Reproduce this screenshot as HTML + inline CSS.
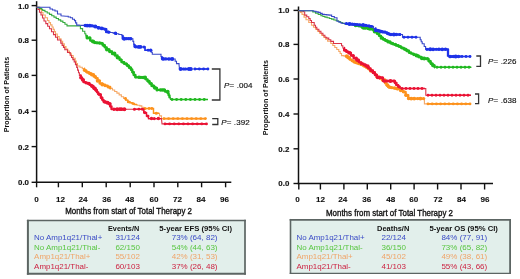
<!DOCTYPE html><html><head><meta charset="utf-8"><style>html,body{margin:0;padding:0;background:#fff;width:520px;height:279px;overflow:hidden}svg{display:block}text{font-family:"Liberation Sans", sans-serif}</style></head><body>
<svg style="will-change:transform" width="520" height="279" viewBox="0 0 520 279">
<rect width="520" height="279" fill="#fff"/>
<path d="M36.6,1.2 V183.05" stroke="#111" stroke-width="1.5" fill="none"/>
<path d="M35.85,182.3 H231.3" stroke="#111" stroke-width="1.5" fill="none"/>
<path d="M31.6,5.6 H36.6" stroke="#111" stroke-width="1.4"/>
<text x="29.0" y="8.5" font-size="7.9" fill="#111" font-weight="bold" font-style="normal" text-anchor="end" stroke="#111" stroke-width="0.15">1.0</text>
<path d="M31.6,40.2 H36.6" stroke="#111" stroke-width="1.4"/>
<text x="29.0" y="43.1" font-size="7.9" fill="#111" font-weight="bold" font-style="normal" text-anchor="end" stroke="#111" stroke-width="0.15">0.8</text>
<path d="M31.6,75.4 H36.6" stroke="#111" stroke-width="1.4"/>
<text x="29.0" y="78.3" font-size="7.9" fill="#111" font-weight="bold" font-style="normal" text-anchor="end" stroke="#111" stroke-width="0.15">0.6</text>
<path d="M31.6,111.4 H36.6" stroke="#111" stroke-width="1.4"/>
<text x="29.0" y="114.3" font-size="7.9" fill="#111" font-weight="bold" font-style="normal" text-anchor="end" stroke="#111" stroke-width="0.15">0.4</text>
<path d="M31.6,146.6 H36.6" stroke="#111" stroke-width="1.4"/>
<text x="29.0" y="149.5" font-size="7.9" fill="#111" font-weight="bold" font-style="normal" text-anchor="end" stroke="#111" stroke-width="0.15">0.2</text>
<path d="M31.6,182.3 H36.6" stroke="#111" stroke-width="1.4"/>
<text x="29.0" y="185.2" font-size="7.9" fill="#111" font-weight="bold" font-style="normal" text-anchor="end" stroke="#111" stroke-width="0.15">0.0</text>
<path d="M36.6,182.3 V187.3" stroke="#111" stroke-width="1.4"/>
<path d="M58.4,182.3 V187.3" stroke="#111" stroke-width="1.4"/>
<path d="M82.3,182.3 V187.3" stroke="#111" stroke-width="1.4"/>
<path d="M106.2,182.3 V187.3" stroke="#111" stroke-width="1.4"/>
<path d="M130.2,182.3 V187.3" stroke="#111" stroke-width="1.4"/>
<path d="M154.0,182.3 V187.3" stroke="#111" stroke-width="1.4"/>
<path d="M177.8,182.3 V187.3" stroke="#111" stroke-width="1.4"/>
<path d="M201.6,182.3 V187.3" stroke="#111" stroke-width="1.4"/>
<path d="M225.6,182.3 V187.3" stroke="#111" stroke-width="1.4"/>
<text x="36.5" y="201.5" font-size="8.1" fill="#111" font-weight="bold" font-style="normal" text-anchor="middle" stroke="#111" stroke-width="0.1">0</text>
<text x="60.6" y="201.5" font-size="8.1" fill="#111" font-weight="bold" font-style="normal" text-anchor="middle" stroke="#111" stroke-width="0.1">12</text>
<text x="83.1" y="201.5" font-size="8.1" fill="#111" font-weight="bold" font-style="normal" text-anchor="middle" stroke="#111" stroke-width="0.1">24</text>
<text x="106.7" y="201.5" font-size="8.1" fill="#111" font-weight="bold" font-style="normal" text-anchor="middle" stroke="#111" stroke-width="0.1">36</text>
<text x="129.7" y="201.5" font-size="8.1" fill="#111" font-weight="bold" font-style="normal" text-anchor="middle" stroke="#111" stroke-width="0.1">48</text>
<text x="153.9" y="201.5" font-size="8.1" fill="#111" font-weight="bold" font-style="normal" text-anchor="middle" stroke="#111" stroke-width="0.1">60</text>
<text x="177.4" y="201.5" font-size="8.1" fill="#111" font-weight="bold" font-style="normal" text-anchor="middle" stroke="#111" stroke-width="0.1">72</text>
<text x="200.9" y="201.5" font-size="8.1" fill="#111" font-weight="bold" font-style="normal" text-anchor="middle" stroke="#111" stroke-width="0.1">84</text>
<text x="224.4" y="201.5" font-size="8.1" fill="#111" font-weight="bold" font-style="normal" text-anchor="middle" stroke="#111" stroke-width="0.1">96</text>
<text transform="translate(8.6,94.6) rotate(-90)" font-size="7.4" font-weight="bold" fill="#111" text-anchor="middle" textLength="75.5" lengthAdjust="spacingAndGlyphs">Proportion of Patients</text>
<text x="65.2" y="213.9" font-size="8.3" fill="#111" font-weight="normal" font-style="normal" text-anchor="start" textLength="126.8" lengthAdjust="spacingAndGlyphs" stroke="#111" stroke-width="0.33">Months from start of Total Therapy 2</text>
<path d="M36.60,7.20 L40.00,7.20 L40.00,9.50 L41.50,9.50 L41.50,12.25 L43.00,12.25 L43.00,15.00 L45.25,15.00 L45.25,17.75 L47.50,17.75 L47.50,20.50 L49.00,20.50 L49.00,22.67 L50.50,22.67 L50.50,24.83 L52.00,24.83 L52.00,27.00 L53.17,27.00 L53.17,29.33 L54.33,29.33 L54.33,31.67 L55.50,31.67 L55.50,34.00 L57.33,34.00 L57.33,36.43 L59.17,36.43 L59.17,38.87 L61.00,38.87 L61.00,41.30 L62.67,41.30 L62.67,43.87 L64.33,43.87 L64.33,46.43 L66.00,46.43 L66.00,49.00 L67.73,49.00 L67.73,51.17 L69.47,51.17 L69.47,53.33 L71.20,53.33 L71.20,55.50 L73.20,55.50 L73.20,58.25 L75.20,58.25 L75.20,61.00 L76.35,61.00 L76.35,63.50 L77.50,63.50 L77.50,66.00 L79.90,66.00 L79.90,67.30 L82.30,67.30 L82.30,68.60 L84.25,68.60 L84.25,70.35 L86.20,70.35 L86.20,72.10 L88.85,72.10 L88.85,73.45 L91.50,73.45 L91.50,74.80 L93.55,74.80 L93.55,76.50 L95.60,76.50 L95.60,78.20 L97.60,78.20 L97.60,80.85 L99.60,80.85 L99.60,83.50 L102.30,83.50 L102.30,84.55 L105.00,84.55 L105.00,85.60 L107.60,85.60 L107.60,87.00 L110.20,87.00 L110.20,88.40 L112.43,88.40 L112.43,89.97 L114.67,89.97 L114.67,91.53 L116.90,91.53 L116.90,93.10 L119.13,93.10 L119.13,94.90 L121.37,94.90 L121.37,96.70 L123.60,96.70 L123.60,98.50 L125.65,98.50 L125.65,100.15 L127.70,100.15 L127.70,101.80 L129.93,101.80 L129.93,102.70 L132.17,102.70 L132.17,103.60 L134.40,103.60 L134.40,104.50 L137.10,104.50 L137.10,105.20 L139.80,105.20 L139.80,105.90 L141.80,105.90 L141.80,107.20 L143.80,107.20 L143.80,108.50 L153.50,108.50 L153.50,113.20 L157.50,113.20 L159.50,113.20 L159.50,115.90 L161.50,115.90 L161.50,118.60 L206.00,118.60" fill="none" stroke="#f5a866" stroke-width="1.1" stroke-linejoin="miter"/>
<path d="M84.00,68.60 L84.25,68.60 L84.25,68.60 L84.25,70.35 L84.25,70.35 L86.20,70.35 L86.20,70.35 L86.20,72.10 L86.20,72.10 L88.85,72.10 L88.85,72.10 L88.85,73.45 L88.85,73.45 L91.50,73.45 L91.50,73.45 L91.50,74.80 L91.50,74.80 L93.55,74.80 L93.55,74.80 L93.55,76.50 L93.55,76.50 L95.60,76.50 L95.60,76.50 L95.60,78.20 L95.60,78.20 L97.60,78.20 L97.60,78.20 L97.60,80.85 L97.60,80.85 L99.60,80.85 L99.60,80.85 L99.60,83.50 L99.60,83.50 L102.30,83.50 L102.30,83.50 L102.30,84.55 L102.30,84.55 L105.00,84.55 L105.00,84.55 L105.00,85.60 L105.00,85.60 L107.60,85.60 L107.60,85.60 L107.60,87.00 L107.60,87.00 L110.20,87.00 L110.20,87.00 L110.20,88.40 L110.20,88.40 L111.00,88.40" fill="none" stroke="#fd921c" stroke-width="2.3" stroke-linejoin="round"/>
<circle cx="84.49" cy="70.35" r="1.58" fill="#fd921c"/>
<circle cx="87.39" cy="72.10" r="1.54" fill="#fd921c"/>
<circle cx="90.06" cy="73.45" r="1.68" fill="#fd921c"/>
<circle cx="91.78" cy="74.80" r="1.75" fill="#fd921c"/>
<circle cx="93.45" cy="74.80" r="1.72" fill="#fd921c"/>
<circle cx="95.19" cy="76.50" r="1.55" fill="#fd921c"/>
<circle cx="97.64" cy="80.85" r="1.91" fill="#fd921c"/>
<circle cx="99.49" cy="80.85" r="1.61" fill="#fd921c"/>
<circle cx="102.34" cy="84.55" r="1.97" fill="#fd921c"/>
<circle cx="105.10" cy="85.60" r="1.70" fill="#fd921c"/>
<circle cx="108.65" cy="87.00" r="1.52" fill="#fd921c"/>
<path d="M125.00,98.50 L125.65,98.50 L125.65,98.50 L125.65,100.15 L125.65,100.15 L127.70,100.15 L127.70,100.15 L127.70,101.80 L127.70,101.80 L129.93,101.80 L129.93,101.80 L129.93,102.70 L129.93,102.70 L132.17,102.70 L132.17,102.70 L132.17,103.60 L132.17,103.60 L134.40,103.60 L134.40,103.60 L134.40,104.50 L134.40,104.50 L137.00,104.50" fill="none" stroke="#fd921c" stroke-width="1.4"/>
<circle cx="125.43" cy="98.50" r="1.46" fill="#fd921c"/>
<circle cx="128.29" cy="101.80" r="1.52" fill="#fd921c"/>
<circle cx="133.24" cy="103.60" r="1.47" fill="#fd921c"/>
<path d="M144.00,108.50 L153.50,108.50 L153.50,108.50 L153.50,113.20 L153.50,113.20 L157.50,113.20 L157.50,113.20 L159.00,113.20" fill="none" stroke="#fd921c" stroke-width="1.4"/>
<circle cx="144.96" cy="108.50" r="1.55" fill="#fd921c"/>
<circle cx="149.10" cy="108.50" r="1.43" fill="#fd921c"/>
<circle cx="151.78" cy="108.50" r="1.48" fill="#fd921c"/>
<circle cx="156.32" cy="113.20" r="1.57" fill="#fd921c"/>
<path d="M163.00,118.60 L206.00,118.60" fill="none" stroke="#fd921c" stroke-width="1.6"/>
<circle cx="164.00" cy="118.60" r="1.45" fill="#fd921c"/>
<circle cx="168.60" cy="118.60" r="1.45" fill="#fd921c"/>
<circle cx="173.20" cy="118.60" r="1.45" fill="#fd921c"/>
<circle cx="177.80" cy="118.60" r="1.45" fill="#fd921c"/>
<circle cx="182.40" cy="118.60" r="1.45" fill="#fd921c"/>
<circle cx="187.00" cy="118.60" r="1.45" fill="#fd921c"/>
<circle cx="191.60" cy="118.60" r="1.45" fill="#fd921c"/>
<circle cx="196.20" cy="118.60" r="1.45" fill="#fd921c"/>
<circle cx="200.80" cy="118.60" r="1.45" fill="#fd921c"/>
<circle cx="205.40" cy="118.60" r="1.45" fill="#fd921c"/>
<path d="M36.60,7.20 L38.00,7.20 L38.00,9.50 L39.50,9.50 L39.50,12.25 L41.00,12.25 L41.00,15.00 L42.50,15.00 L42.50,18.00 L44.00,18.00 L44.00,21.00 L45.83,21.00 L45.83,23.60 L47.67,23.60 L47.67,26.20 L49.50,26.20 L49.50,28.80 L51.50,28.80 L51.50,31.70 L53.50,31.70 L53.50,34.60 L55.50,34.60 L55.50,37.30 L57.50,37.30 L57.50,40.00 L60.80,40.00 L60.80,43.10 L62.13,43.10 L62.13,45.33 L63.47,45.33 L63.47,47.57 L64.80,47.57 L64.80,49.80 L67.50,49.80 L67.50,52.50 L70.20,52.50 L70.20,55.20 L71.53,55.20 L71.53,57.43 L72.87,57.43 L72.87,59.67 L74.20,59.67 L74.20,61.90 L75.45,61.90 L75.45,64.65 L76.70,64.65 L76.70,67.40 L77.60,67.40 L77.60,70.10 L78.50,70.10 L78.50,72.80 L79.40,72.80 L79.40,75.50 L80.77,75.50 L80.77,77.73 L82.13,77.73 L82.13,79.97 L83.50,79.97 L83.50,82.20 L85.50,82.20 L85.50,82.85 L87.50,82.85 L87.50,83.50 L89.50,83.50 L89.50,84.85 L91.50,84.85 L91.50,86.20 L93.55,86.20 L93.55,88.25 L95.60,88.25 L95.60,90.30 L96.95,90.30 L96.95,92.30 L98.30,92.30 L98.30,94.30 L100.80,94.30 L100.80,97.80 L102.15,97.80 L102.15,99.80 L103.50,99.80 L103.50,101.80 L106.15,101.80 L106.15,102.80 L108.80,102.80 L108.80,103.80 L110.15,103.80 L110.15,106.50 L111.50,106.50 L111.50,109.20 L141.10,109.20 L143.80,109.20 L143.80,112.60 L146.50,112.60 L146.50,116.00 L148.50,116.00 L148.50,118.60 L161.50,118.60 L162.00,123.90 L207.30,123.90" fill="none" stroke="#da3448" stroke-width="1.1" stroke-linejoin="miter"/>
<path d="M80.00,75.50 L80.77,75.50 L80.77,75.50 L80.77,77.73 L80.77,77.73 L82.13,77.73 L82.13,77.73 L82.13,79.97 L82.13,79.97 L83.50,79.97 L83.50,79.97 L83.50,82.20 L83.50,82.20 L85.50,82.20 L85.50,82.20 L85.50,82.85 L85.50,82.85 L87.50,82.85 L87.50,82.85 L87.50,83.50 L87.50,83.50 L89.50,83.50 L89.50,83.50 L89.50,84.85 L89.50,84.85 L91.50,84.85 L91.50,84.85 L91.50,86.20 L91.50,86.20 L93.55,86.20 L93.55,86.20 L93.55,88.25 L93.55,88.25 L95.60,88.25 L95.60,88.25 L95.60,90.30 L95.60,90.30 L96.95,90.30 L96.95,90.30 L96.95,92.30 L96.95,92.30 L98.30,92.30 L98.30,92.30 L98.30,94.30 L98.30,94.30 L100.80,94.30 L100.80,94.30 L100.80,97.80 L100.80,97.80 L102.15,97.80 L102.15,97.80 L102.15,99.80 L102.15,99.80 L103.50,99.80 L103.50,99.80 L103.50,101.80 L103.50,101.80 L106.15,101.80 L106.15,101.80 L106.15,102.80 L106.15,102.80 L108.80,102.80 L108.80,102.80 L108.80,103.80 L108.80,103.80 L110.15,103.80 L110.15,103.80 L110.15,106.50 L110.15,106.50 L111.50,106.50 L111.50,106.50 L111.50,109.20 L111.50,109.20 L112.00,109.20" fill="none" stroke="#ea1234" stroke-width="2.3" stroke-linejoin="round"/>
<circle cx="80.88" cy="77.73" r="1.73" fill="#ea1234"/>
<circle cx="83.08" cy="79.97" r="1.90" fill="#ea1234"/>
<circle cx="86.08" cy="82.85" r="1.62" fill="#ea1234"/>
<circle cx="88.82" cy="83.50" r="1.76" fill="#ea1234"/>
<circle cx="92.17" cy="86.20" r="1.86" fill="#ea1234"/>
<circle cx="94.35" cy="88.25" r="1.99" fill="#ea1234"/>
<circle cx="96.19" cy="90.30" r="1.71" fill="#ea1234"/>
<circle cx="99.30" cy="94.30" r="1.58" fill="#ea1234"/>
<circle cx="101.88" cy="97.80" r="1.52" fill="#ea1234"/>
<circle cx="104.82" cy="101.80" r="1.88" fill="#ea1234"/>
<circle cx="107.56" cy="102.80" r="1.94" fill="#ea1234"/>
<circle cx="109.79" cy="103.80" r="1.85" fill="#ea1234"/>
<path d="M113.00,109.20 L126.00,109.20" fill="none" stroke="#ea1234" stroke-width="2.3" stroke-linejoin="round"/>
<circle cx="113.87" cy="109.20" r="1.73" fill="#ea1234"/>
<circle cx="117.15" cy="109.20" r="1.97" fill="#ea1234"/>
<circle cx="119.70" cy="109.20" r="1.83" fill="#ea1234"/>
<circle cx="121.42" cy="109.20" r="1.85" fill="#ea1234"/>
<circle cx="124.31" cy="109.20" r="2.00" fill="#ea1234"/>
<path d="M134.00,109.20 L141.00,109.20" fill="none" stroke="#ea1234" stroke-width="1.4"/>
<circle cx="134.43" cy="109.20" r="1.55" fill="#ea1234"/>
<circle cx="138.93" cy="109.20" r="1.41" fill="#ea1234"/>
<path d="M142.00,109.20 L143.80,109.20 L143.80,109.20 L143.80,112.60 L143.80,112.60 L146.50,112.60 L146.50,112.60 L146.50,116.00 L146.50,116.00 L148.50,116.00 L148.50,116.00 L148.50,118.60 L148.50,118.60 L161.00,118.60" fill="none" stroke="#ea1234" stroke-width="1.4"/>
<circle cx="142.25" cy="109.20" r="1.45" fill="#ea1234"/>
<circle cx="144.93" cy="112.60" r="1.71" fill="#ea1234"/>
<circle cx="147.82" cy="116.00" r="1.50" fill="#ea1234"/>
<circle cx="151.49" cy="118.60" r="1.75" fill="#ea1234"/>
<circle cx="154.23" cy="118.60" r="1.58" fill="#ea1234"/>
<circle cx="158.38" cy="118.60" r="1.75" fill="#ea1234"/>
<path d="M164.00,123.90 L207.00,123.90" fill="none" stroke="#ea1234" stroke-width="1.6"/>
<circle cx="165.00" cy="123.90" r="1.45" fill="#ea1234"/>
<circle cx="169.60" cy="123.90" r="1.45" fill="#ea1234"/>
<circle cx="174.20" cy="123.90" r="1.45" fill="#ea1234"/>
<circle cx="178.80" cy="123.90" r="1.45" fill="#ea1234"/>
<circle cx="183.40" cy="123.90" r="1.45" fill="#ea1234"/>
<circle cx="188.00" cy="123.90" r="1.45" fill="#ea1234"/>
<circle cx="192.60" cy="123.90" r="1.45" fill="#ea1234"/>
<circle cx="197.20" cy="123.90" r="1.45" fill="#ea1234"/>
<circle cx="201.80" cy="123.90" r="1.45" fill="#ea1234"/>
<circle cx="206.40" cy="123.90" r="1.45" fill="#ea1234"/>
<path d="M36.60,7.20 L39.20,7.20 L39.20,8.35 L41.80,8.35 L41.80,9.50 L42.70,9.50 L42.70,10.40 L44.97,10.40 L44.97,11.73 L47.23,11.73 L47.23,13.07 L49.50,13.07 L49.50,14.40 L51.73,14.40 L51.73,15.77 L53.97,15.77 L53.97,17.13 L56.20,17.13 L56.20,18.50 L58.43,18.50 L58.43,19.83 L60.67,19.83 L60.67,21.17 L62.90,21.17 L62.90,22.50 L64.95,22.50 L64.95,24.20 L67.00,24.20 L67.00,25.90 L77.40,25.90 L80.40,25.90 L80.40,28.60 L82.60,28.60 L82.60,31.20 L84.80,31.20 L84.80,33.80 L85.80,33.80 L85.80,35.85 L86.80,35.85 L86.80,37.90 L90.20,37.90 L90.20,40.60 L92.20,40.60 L92.20,41.60 L94.20,41.60 L94.20,42.60 L96.47,42.60 L96.47,42.83 L98.73,42.83 L98.73,43.07 L101.00,43.07 L101.00,43.30 L102.70,43.30 L102.70,45.40 L104.70,45.40 L104.70,47.40 L106.70,47.40 L106.70,49.40 L109.40,49.40 L109.40,51.45 L112.10,51.45 L112.10,53.50 L114.80,53.50 L114.80,55.50 L117.50,55.50 L117.50,57.50 L119.50,57.50 L119.50,59.85 L121.50,59.85 L121.50,62.20 L124.20,62.20 L124.20,63.90 L126.90,63.90 L126.90,65.60 L128.95,65.60 L128.95,67.60 L131.00,67.60 L131.00,69.60 L132.30,69.60 L132.30,72.30 L133.60,72.30 L133.60,75.00 L135.40,75.00 L135.40,77.10 L143.50,77.50 L145.50,77.50 L145.50,79.35 L147.50,79.35 L147.50,81.20 L149.50,81.20 L149.50,83.55 L151.50,83.55 L151.50,85.90 L154.20,85.90 L154.20,87.90 L156.90,87.90 L156.90,89.90 L162.30,89.90 L165.00,89.90 L165.00,91.60 L167.70,91.60 L167.70,93.30 L168.60,93.30 L168.60,95.37 L169.50,95.37 L169.50,97.43 L170.40,97.43 L170.40,99.50 L208.00,99.50" fill="none" stroke="#34aa3c" stroke-width="1.1" stroke-linejoin="miter"/>
<path d="M86.00,35.85 L86.80,35.85 L86.80,35.85 L86.80,37.90 L86.80,37.90 L90.20,37.90 L90.20,37.90 L90.20,40.60 L90.20,40.60 L92.20,40.60 L92.20,40.60 L92.20,41.60 L92.20,41.60 L94.20,41.60 L94.20,41.60 L94.20,42.60 L94.20,42.60 L96.47,42.60 L96.47,42.60 L96.47,42.83 L96.47,42.83 L98.73,42.83 L98.73,42.83 L98.73,43.07 L98.73,43.07 L101.00,43.07 L101.00,43.07 L101.00,43.30 L101.00,43.30 L102.70,43.30 L102.70,43.30 L102.70,45.40 L102.70,45.40 L104.70,45.40 L104.70,45.40 L104.70,47.40 L104.70,47.40 L106.70,47.40 L106.70,47.40 L106.70,49.40 L106.70,49.40 L109.40,49.40 L109.40,49.40 L109.40,51.45 L109.40,51.45 L112.10,51.45 L112.10,51.45 L112.10,53.50 L112.10,53.50 L114.80,53.50 L114.80,53.50 L114.80,55.50 L114.80,55.50 L117.50,55.50 L117.50,55.50 L117.50,57.50 L117.50,57.50 L119.50,57.50 L119.50,57.50 L119.50,59.85 L119.50,59.85 L121.50,59.85 L121.50,59.85 L121.50,62.20 L121.50,62.20 L124.20,62.20 L124.20,62.20 L124.20,63.90 L124.20,63.90 L126.90,63.90 L126.90,63.90 L126.90,65.60 L126.90,65.60 L128.95,65.60 L128.95,65.60 L128.95,67.60 L128.95,67.60 L131.00,67.60 L131.00,67.60 L131.00,69.60 L131.00,69.60 L132.30,69.60 L132.30,69.60 L132.30,72.30 L132.30,72.30 L133.60,72.30 L133.60,72.30 L133.60,75.00 L133.60,75.00 L135.40,75.00 L135.40,75.00 L135.40,77.10 L135.40,77.10 L143.50,77.50 L143.50,77.50 L145.50,77.50 L145.50,77.50 L145.50,79.35 L145.50,79.35 L147.50,79.35 L147.50,79.35 L147.50,81.20 L147.50,81.20 L149.50,81.20 L149.50,81.20 L149.50,83.55 L149.50,83.55 L151.50,83.55 L151.50,83.55 L151.50,85.90 L151.50,85.90 L154.20,85.90 L154.20,85.90 L154.20,87.90 L154.20,87.90 L156.90,87.90 L156.90,87.90 L156.90,89.90 L156.90,89.90 L162.30,89.90 L162.30,89.90 L165.00,89.90 L165.00,89.90 L165.00,91.60 L165.00,91.60 L167.70,91.60 L167.70,91.60 L167.70,93.30 L167.70,93.30 L168.60,93.30 L168.60,93.30 L168.60,95.37 L168.60,95.37 L169.50,95.37 L169.50,95.37 L169.50,97.43 L169.50,97.43 L170.00,97.43" fill="none" stroke="#1fb81f" stroke-width="2.3" stroke-linejoin="round"/>
<circle cx="87.30" cy="37.90" r="1.64" fill="#1fb81f"/>
<circle cx="89.73" cy="37.90" r="1.68" fill="#1fb81f"/>
<circle cx="93.09" cy="41.60" r="1.98" fill="#1fb81f"/>
<circle cx="95.00" cy="42.60" r="1.59" fill="#1fb81f"/>
<circle cx="97.06" cy="42.83" r="1.62" fill="#1fb81f"/>
<circle cx="99.63" cy="43.07" r="1.79" fill="#1fb81f"/>
<circle cx="101.76" cy="43.30" r="1.50" fill="#1fb81f"/>
<circle cx="104.19" cy="45.40" r="1.68" fill="#1fb81f"/>
<circle cx="106.93" cy="49.40" r="1.98" fill="#1fb81f"/>
<circle cx="109.91" cy="51.45" r="1.76" fill="#1fb81f"/>
<circle cx="112.74" cy="53.50" r="1.84" fill="#1fb81f"/>
<circle cx="114.45" cy="53.50" r="1.95" fill="#1fb81f"/>
<circle cx="117.61" cy="57.50" r="1.94" fill="#1fb81f"/>
<circle cx="120.81" cy="59.85" r="1.70" fill="#1fb81f"/>
<circle cx="123.20" cy="62.20" r="1.55" fill="#1fb81f"/>
<circle cx="126.07" cy="63.90" r="1.53" fill="#1fb81f"/>
<circle cx="127.81" cy="65.60" r="1.60" fill="#1fb81f"/>
<circle cx="129.73" cy="67.60" r="1.67" fill="#1fb81f"/>
<circle cx="131.44" cy="69.60" r="1.50" fill="#1fb81f"/>
<circle cx="133.34" cy="72.30" r="1.55" fill="#1fb81f"/>
<circle cx="135.67" cy="77.11" r="1.51" fill="#1fb81f"/>
<circle cx="139.02" cy="77.28" r="1.81" fill="#1fb81f"/>
<circle cx="140.91" cy="77.37" r="1.63" fill="#1fb81f"/>
<circle cx="143.21" cy="77.49" r="1.68" fill="#1fb81f"/>
<circle cx="145.05" cy="77.50" r="1.92" fill="#1fb81f"/>
<circle cx="148.64" cy="81.20" r="1.73" fill="#1fb81f"/>
<circle cx="151.21" cy="83.55" r="1.54" fill="#1fb81f"/>
<circle cx="153.01" cy="85.90" r="1.67" fill="#1fb81f"/>
<circle cx="155.14" cy="87.90" r="1.91" fill="#1fb81f"/>
<circle cx="157.06" cy="89.90" r="1.51" fill="#1fb81f"/>
<circle cx="160.57" cy="89.90" r="1.76" fill="#1fb81f"/>
<circle cx="162.46" cy="89.90" r="1.77" fill="#1fb81f"/>
<circle cx="164.11" cy="89.90" r="1.76" fill="#1fb81f"/>
<circle cx="167.67" cy="91.60" r="1.93" fill="#1fb81f"/>
<path d="M171.00,99.50 L208.00,99.50" fill="none" stroke="#1fb81f" stroke-width="1.6"/>
<circle cx="172.00" cy="99.50" r="1.45" fill="#1fb81f"/>
<circle cx="176.60" cy="99.50" r="1.45" fill="#1fb81f"/>
<circle cx="181.20" cy="99.50" r="1.45" fill="#1fb81f"/>
<circle cx="185.80" cy="99.50" r="1.45" fill="#1fb81f"/>
<circle cx="190.40" cy="99.50" r="1.45" fill="#1fb81f"/>
<circle cx="195.00" cy="99.50" r="1.45" fill="#1fb81f"/>
<circle cx="199.60" cy="99.50" r="1.45" fill="#1fb81f"/>
<circle cx="204.20" cy="99.50" r="1.45" fill="#1fb81f"/>
<path d="M36.60,7.20 L47.50,7.20 L50.00,7.20 L50.00,9.00 L52.50,9.00 L52.50,10.00 L55.00,10.00 L55.00,11.00 L57.50,11.00 L57.50,14.00 L61.00,14.00 L61.00,15.70 L66.00,16.20 L68.25,16.20 L68.25,17.00 L70.50,17.00 L70.50,17.80 L72.50,17.80 L72.50,19.20 L74.50,19.20 L74.50,20.60 L75.60,20.60 L75.60,22.85 L76.70,22.85 L76.70,25.10 L79.17,25.10 L79.17,25.22 L81.63,25.22 L81.63,25.33 L84.10,25.33 L84.10,25.45 L86.57,25.45 L86.57,25.57 L89.03,25.57 L89.03,25.68 L91.50,25.68 L91.50,25.80 L93.80,25.80 L93.80,26.46 L96.10,26.46 L96.10,27.12 L98.40,27.12 L98.40,27.78 L100.70,27.78 L100.70,28.44 L103.00,28.44 L103.00,29.10 L106.30,29.10 L106.30,31.80 L108.35,31.80 L108.35,32.15 L110.40,32.15 L110.40,32.50 L113.10,32.50 L113.10,33.15 L115.80,33.15 L115.80,33.80 L118.80,33.80 L118.80,34.50 L121.80,34.50 L121.80,35.20 L122.70,35.20 L122.70,38.70 L132.10,38.70 L132.90,38.70 L132.90,41.40 L133.70,41.40 L133.70,44.10 L134.50,44.10 L134.50,46.80 L142.20,47.00 L145.00,47.00 L145.00,50.20 L150.00,50.20 L151.15,50.20 L151.15,52.20 L152.30,52.20 L152.30,54.20 L160.00,54.20 L161.00,54.20 L161.00,56.55 L162.00,56.55 L162.00,58.90 L173.80,59.00 L175.15,59.00 L175.15,61.30 L176.50,61.30 L176.50,63.60 L179.00,63.60 L179.00,64.50 L179.50,69.00 L208.00,69.00" fill="none" stroke="#3848c8" stroke-width="1.1" stroke-linejoin="miter"/>
<path d="M84.80,25.45 L86.57,25.45 L86.57,25.45 L86.57,25.57 L86.57,25.57 L89.03,25.57 L89.03,25.57 L89.03,25.68 L89.03,25.68 L91.50,25.68 L91.50,25.68 L91.50,25.80 L91.50,25.80 L93.80,25.80 L93.80,25.80 L93.80,26.46 L93.80,26.46 L96.10,26.46 L96.10,26.46 L96.10,27.12 L96.10,27.12 L98.40,27.12 L98.40,27.12 L98.40,27.78 L98.40,27.78 L100.70,27.78 L100.70,27.78 L100.70,28.44 L100.70,28.44 L103.00,28.44 L103.00,28.44 L103.00,29.10 L103.00,29.10 L103.00,29.10" fill="none" stroke="#1e32e8" stroke-width="2.3" stroke-linejoin="round"/>
<circle cx="85.19" cy="25.45" r="1.68" fill="#1e32e8"/>
<circle cx="87.13" cy="25.57" r="1.89" fill="#1e32e8"/>
<circle cx="89.79" cy="25.68" r="1.89" fill="#1e32e8"/>
<circle cx="92.05" cy="25.80" r="1.61" fill="#1e32e8"/>
<circle cx="95.27" cy="26.46" r="1.99" fill="#1e32e8"/>
<circle cx="98.58" cy="27.78" r="1.90" fill="#1e32e8"/>
<circle cx="101.82" cy="28.44" r="1.87" fill="#1e32e8"/>
<path d="M104.00,29.10 L106.30,29.10 L106.30,29.10 L106.30,31.80 L106.30,31.80 L108.35,31.80 L108.35,31.80 L108.35,32.15 L108.35,32.15 L110.00,32.15" fill="none" stroke="#1e32e8" stroke-width="2.3" stroke-linejoin="round"/>
<circle cx="104.78" cy="29.10" r="1.68" fill="#1e32e8"/>
<circle cx="106.43" cy="31.80" r="1.51" fill="#1e32e8"/>
<circle cx="108.59" cy="32.15" r="1.63" fill="#1e32e8"/>
<path d="M114.00,33.15 L115.80,33.15 L115.80,33.15 L115.80,33.80 L115.80,33.80 L117.00,33.80" fill="none" stroke="#1e32e8" stroke-width="2.3" stroke-linejoin="round"/>
<circle cx="115.43" cy="33.15" r="1.72" fill="#1e32e8"/>
<path d="M122.70,35.20 L122.70,35.20 L122.70,35.20 L122.70,38.70 L122.70,38.70 L132.10,38.70 L132.10,38.70 L132.10,38.70" fill="none" stroke="#1e32e8" stroke-width="2.3" stroke-linejoin="round"/>
<circle cx="124.18" cy="38.70" r="1.98" fill="#1e32e8"/>
<circle cx="126.51" cy="38.70" r="1.61" fill="#1e32e8"/>
<circle cx="128.57" cy="38.70" r="1.60" fill="#1e32e8"/>
<circle cx="130.57" cy="38.70" r="1.81" fill="#1e32e8"/>
<path d="M134.50,44.10 L134.50,44.10 L134.50,44.10 L134.50,46.80 L134.50,46.80 L142.20,47.00 L142.20,47.00 L142.20,47.00" fill="none" stroke="#1e32e8" stroke-width="2.3" stroke-linejoin="round"/>
<circle cx="135.76" cy="46.83" r="1.74" fill="#1e32e8"/>
<circle cx="138.67" cy="46.91" r="1.90" fill="#1e32e8"/>
<circle cx="140.44" cy="46.95" r="1.83" fill="#1e32e8"/>
<path d="M162.00,56.55 L162.00,56.55 L162.00,56.55 L162.00,58.90 L162.00,58.90 L173.80,59.00 L173.80,59.00 L174.00,59.00" fill="none" stroke="#1e32e8" stroke-width="2.3" stroke-linejoin="round"/>
<circle cx="163.17" cy="58.91" r="1.88" fill="#1e32e8"/>
<circle cx="165.73" cy="58.93" r="1.59" fill="#1e32e8"/>
<circle cx="168.91" cy="58.96" r="1.67" fill="#1e32e8"/>
<circle cx="172.11" cy="58.99" r="1.99" fill="#1e32e8"/>
<path d="M180.00,69.00 L192.00,69.00" fill="none" stroke="#1e32e8" stroke-width="2.3" stroke-linejoin="round"/>
<circle cx="180.60" cy="69.00" r="1.97" fill="#1e32e8"/>
<circle cx="183.65" cy="69.00" r="1.59" fill="#1e32e8"/>
<circle cx="185.51" cy="69.00" r="1.58" fill="#1e32e8"/>
<circle cx="188.92" cy="69.00" r="1.90" fill="#1e32e8"/>
<circle cx="190.81" cy="69.00" r="1.91" fill="#1e32e8"/>
<path d="M143.00,47.00 L145.00,47.00 L145.00,47.00 L145.00,50.20 L145.00,50.20 L150.00,50.20 L150.00,50.20 L151.00,50.20" fill="none" stroke="#1e32e8" stroke-width="1.4"/>
<circle cx="143.99" cy="47.00" r="1.54" fill="#1e32e8"/>
<circle cx="148.13" cy="50.20" r="1.45" fill="#1e32e8"/>
<circle cx="150.67" cy="50.20" r="1.79" fill="#1e32e8"/>
<path d="M194.00,69.00 L208.00,69.00" fill="none" stroke="#1e32e8" stroke-width="1.6"/>
<circle cx="195.00" cy="69.00" r="1.45" fill="#1e32e8"/>
<circle cx="199.30" cy="69.00" r="1.45" fill="#1e32e8"/>
<circle cx="203.60" cy="69.00" r="1.45" fill="#1e32e8"/>
<circle cx="207.90" cy="69.00" r="1.45" fill="#1e32e8"/>
<path d="M211.8,69 H219.9 V100 H211.8" fill="none" stroke="#333" stroke-width="1.3"/>
<path d="M212.2,118.6 H217.8 V124.5 H212.2" fill="none" stroke="#333" stroke-width="1.3"/>
<text x="224.1" y="88.1" font-size="8" fill="#111" stroke="#111" stroke-width="0.15" textLength="28.4" lengthAdjust="spacing"><tspan font-style="italic">P</tspan>= .004</text>
<text x="221.3" y="125.3" font-size="8" fill="#111" stroke="#111" stroke-width="0.15" textLength="28.4" lengthAdjust="spacing"><tspan font-style="italic">P</tspan>= .392</text>
<path d="M298.5,6.5 V184.25" stroke="#111" stroke-width="1.5" fill="none"/>
<path d="M297.75,183.5 H493.0" stroke="#111" stroke-width="1.5" fill="none"/>
<path d="M293.5,10.4 H298.5" stroke="#111" stroke-width="1.4"/>
<text x="289.3" y="13.1" font-size="7.9" fill="#111" font-weight="bold" font-style="normal" text-anchor="end" stroke="#111" stroke-width="0.15">1.0</text>
<path d="M293.5,44.4 H298.5" stroke="#111" stroke-width="1.4"/>
<text x="289.3" y="47.1" font-size="7.9" fill="#111" font-weight="bold" font-style="normal" text-anchor="end" stroke="#111" stroke-width="0.15">0.8</text>
<path d="M293.5,79.0 H298.5" stroke="#111" stroke-width="1.4"/>
<text x="289.3" y="81.7" font-size="7.9" fill="#111" font-weight="bold" font-style="normal" text-anchor="end" stroke="#111" stroke-width="0.15">0.6</text>
<path d="M293.5,114.0 H298.5" stroke="#111" stroke-width="1.4"/>
<text x="289.3" y="116.7" font-size="7.9" fill="#111" font-weight="bold" font-style="normal" text-anchor="end" stroke="#111" stroke-width="0.15">0.4</text>
<path d="M293.5,148.8 H298.5" stroke="#111" stroke-width="1.4"/>
<text x="289.3" y="151.5" font-size="7.9" fill="#111" font-weight="bold" font-style="normal" text-anchor="end" stroke="#111" stroke-width="0.15">0.2</text>
<path d="M293.5,183.5 H298.5" stroke="#111" stroke-width="1.4"/>
<text x="289.3" y="186.2" font-size="7.9" fill="#111" font-weight="bold" font-style="normal" text-anchor="end" stroke="#111" stroke-width="0.15">0.0</text>
<path d="M298.8,183.5 V189.5" stroke="#111" stroke-width="1.4"/>
<path d="M320.4,183.5 V189.5" stroke="#111" stroke-width="1.4"/>
<path d="M343.9,183.5 V189.5" stroke="#111" stroke-width="1.4"/>
<path d="M367.3,183.5 V189.5" stroke="#111" stroke-width="1.4"/>
<path d="M390.7,183.5 V189.5" stroke="#111" stroke-width="1.4"/>
<path d="M414.1,183.5 V189.5" stroke="#111" stroke-width="1.4"/>
<path d="M437.6,183.5 V189.5" stroke="#111" stroke-width="1.4"/>
<path d="M461.0,183.5 V189.5" stroke="#111" stroke-width="1.4"/>
<path d="M484.6,183.5 V189.5" stroke="#111" stroke-width="1.4"/>
<text x="297.5" y="202.0" font-size="8.1" fill="#111" font-weight="bold" font-style="normal" text-anchor="middle" stroke="#111" stroke-width="0.1">0</text>
<text x="320.4" y="202.0" font-size="8.1" fill="#111" font-weight="bold" font-style="normal" text-anchor="middle" stroke="#111" stroke-width="0.1">12</text>
<text x="342.8" y="202.0" font-size="8.1" fill="#111" font-weight="bold" font-style="normal" text-anchor="middle" stroke="#111" stroke-width="0.1">24</text>
<text x="366.7" y="202.0" font-size="8.1" fill="#111" font-weight="bold" font-style="normal" text-anchor="middle" stroke="#111" stroke-width="0.1">36</text>
<text x="390.8" y="202.0" font-size="8.1" fill="#111" font-weight="bold" font-style="normal" text-anchor="middle" stroke="#111" stroke-width="0.1">48</text>
<text x="413.8" y="202.0" font-size="8.1" fill="#111" font-weight="bold" font-style="normal" text-anchor="middle" stroke="#111" stroke-width="0.1">60</text>
<text x="438.0" y="202.0" font-size="8.1" fill="#111" font-weight="bold" font-style="normal" text-anchor="middle" stroke="#111" stroke-width="0.1">72</text>
<text x="461.6" y="202.0" font-size="8.1" fill="#111" font-weight="bold" font-style="normal" text-anchor="middle" stroke="#111" stroke-width="0.1">84</text>
<text x="485.0" y="202.0" font-size="8.1" fill="#111" font-weight="bold" font-style="normal" text-anchor="middle" stroke="#111" stroke-width="0.1">96</text>
<text transform="translate(267.9,97.7) rotate(-90)" font-size="7.4" font-weight="bold" fill="#111" text-anchor="middle" textLength="75.2" lengthAdjust="spacingAndGlyphs">Proportion of Patients</text>
<text x="326.0" y="215.7" font-size="8.3" fill="#111" font-weight="normal" font-style="normal" text-anchor="start" textLength="127" lengthAdjust="spacingAndGlyphs" stroke="#111" stroke-width="0.33">Months from start of Total Therapy 2</text>
<path d="M298.50,10.70 L300.25,10.70 L300.25,12.55 L302.00,12.55 L302.00,14.40 L304.00,14.40 L304.00,17.10 L306.00,17.10 L306.00,19.80 L308.75,19.80 L308.75,22.50 L311.50,22.50 L311.50,25.20 L313.50,25.20 L313.50,27.20 L315.50,27.20 L315.50,29.20 L317.50,29.20 L317.50,31.25 L319.50,31.25 L319.50,33.30 L321.55,33.30 L321.55,35.30 L323.60,35.30 L323.60,37.30 L325.60,37.30 L325.60,39.30 L327.60,39.30 L327.60,41.30 L330.80,41.30 L330.80,43.50 L332.80,43.50 L332.80,45.50 L334.80,45.50 L334.80,47.50 L336.80,47.50 L336.80,49.50 L338.80,49.50 L338.80,51.50 L340.15,51.50 L340.15,53.55 L341.50,53.55 L341.50,55.60 L343.55,55.60 L343.55,55.90 L345.60,55.90 L345.60,56.20 L347.60,56.20 L347.60,57.90 L349.60,57.90 L349.60,59.60 L351.60,59.60 L351.60,60.80 L353.60,60.80 L353.60,62.00 L355.80,62.00 L355.80,62.75 L358.00,62.75 L358.00,63.50 L360.73,63.50 L360.73,64.93 L363.47,64.93 L363.47,66.37 L366.20,66.37 L366.20,67.80 L368.43,67.80 L368.43,69.37 L370.67,69.37 L370.67,70.93 L372.90,70.93 L372.90,72.50 L374.90,72.50 L374.90,74.85 L376.90,74.85 L376.90,77.20 L379.60,77.20 L379.60,78.55 L382.30,78.55 L382.30,79.90 L385.00,79.90 L385.00,83.30 L386.55,83.30 L386.55,85.20 L388.10,85.20 L388.10,87.10 L390.45,87.10 L390.45,87.60 L392.80,87.60 L392.80,88.10 L395.15,88.10 L395.15,88.60 L397.50,88.60 L397.50,89.10 L400.20,89.10 L400.20,90.45 L402.90,90.45 L402.90,91.80 L405.60,91.80 L405.60,95.20 L408.30,95.20 L408.30,98.60 L424.40,98.60 L424.40,103.90 L470.00,103.90" fill="none" stroke="#f5a866" stroke-width="1.1" stroke-linejoin="miter"/>
<path d="M346.00,56.20 L347.60,56.20 L347.60,56.20 L347.60,57.90 L347.60,57.90 L349.60,57.90 L349.60,57.90 L349.60,59.60 L349.60,59.60 L351.60,59.60 L351.60,59.60 L351.60,60.80 L351.60,60.80 L353.60,60.80 L353.60,60.80 L353.60,62.00 L353.60,62.00 L355.80,62.00 L355.80,62.00 L355.80,62.75 L355.80,62.75 L358.00,62.75 L358.00,62.75 L358.00,63.50 L358.00,63.50 L360.73,63.50 L360.73,63.50 L360.73,64.93 L360.73,64.93 L363.47,64.93 L363.47,64.93 L363.47,66.37 L363.47,66.37 L366.20,66.37 L366.20,66.37 L366.20,67.80 L366.20,67.80 L368.43,67.80 L368.43,67.80 L368.43,69.37 L368.43,69.37 L370.67,69.37 L370.67,69.37 L370.67,70.93 L370.67,70.93 L372.90,70.93 L372.90,70.93 L372.90,72.50 L372.90,72.50 L374.90,72.50 L374.90,72.50 L374.90,74.85 L374.90,74.85 L376.90,74.85 L376.90,74.85 L376.90,77.20 L376.90,77.20 L379.60,77.20 L379.60,77.20 L379.60,78.55 L379.60,78.55 L382.30,78.55 L382.30,78.55 L382.30,79.90 L382.30,79.90 L385.00,79.90 L385.00,79.90 L385.00,83.30 L385.00,83.30 L386.55,83.30 L386.55,83.30 L386.55,85.20 L386.55,85.20 L388.10,85.20 L388.10,85.20 L388.10,87.10 L388.10,87.10 L390.45,87.10 L390.45,87.10 L390.45,87.60 L390.45,87.60 L392.80,87.60 L392.80,87.60 L392.80,88.10 L392.80,88.10 L395.15,88.10 L395.15,88.10 L395.15,88.60 L395.15,88.60 L397.50,88.60 L397.50,88.60 L397.50,89.10 L397.50,89.10 L400.20,89.10 L400.20,89.10 L400.20,90.45 L400.20,90.45 L402.90,90.45 L402.90,90.45 L402.90,91.80 L402.90,91.80 L405.60,91.80 L405.60,91.80 L405.60,95.20 L405.60,95.20 L408.30,95.20 L408.30,95.20 L408.30,98.60 L408.30,98.60 L424.00,98.60" fill="none" stroke="#fd921c" stroke-width="2.3" stroke-linejoin="round"/>
<circle cx="346.79" cy="56.20" r="1.97" fill="#fd921c"/>
<circle cx="349.26" cy="57.90" r="1.94" fill="#fd921c"/>
<circle cx="352.51" cy="60.80" r="1.61" fill="#fd921c"/>
<circle cx="354.61" cy="62.00" r="1.65" fill="#fd921c"/>
<circle cx="356.69" cy="62.75" r="1.79" fill="#fd921c"/>
<circle cx="358.81" cy="63.50" r="1.71" fill="#fd921c"/>
<circle cx="360.68" cy="63.50" r="1.96" fill="#fd921c"/>
<circle cx="362.98" cy="64.93" r="1.73" fill="#fd921c"/>
<circle cx="365.75" cy="66.37" r="1.95" fill="#fd921c"/>
<circle cx="368.19" cy="67.80" r="1.96" fill="#fd921c"/>
<circle cx="370.79" cy="70.93" r="1.77" fill="#fd921c"/>
<circle cx="373.44" cy="72.50" r="1.51" fill="#fd921c"/>
<circle cx="375.92" cy="74.85" r="1.59" fill="#fd921c"/>
<circle cx="377.53" cy="77.20" r="1.90" fill="#fd921c"/>
<circle cx="379.47" cy="77.20" r="1.74" fill="#fd921c"/>
<circle cx="382.52" cy="79.90" r="1.78" fill="#fd921c"/>
<circle cx="384.78" cy="79.90" r="1.76" fill="#fd921c"/>
<circle cx="387.49" cy="85.20" r="1.89" fill="#fd921c"/>
<circle cx="389.30" cy="87.10" r="1.78" fill="#fd921c"/>
<circle cx="391.40" cy="87.60" r="1.64" fill="#fd921c"/>
<circle cx="394.54" cy="88.10" r="1.75" fill="#fd921c"/>
<circle cx="397.26" cy="88.60" r="1.88" fill="#fd921c"/>
<circle cx="400.69" cy="90.45" r="1.72" fill="#fd921c"/>
<circle cx="403.51" cy="91.80" r="1.75" fill="#fd921c"/>
<circle cx="406.14" cy="95.20" r="1.85" fill="#fd921c"/>
<circle cx="408.64" cy="98.60" r="1.77" fill="#fd921c"/>
<circle cx="411.20" cy="98.60" r="1.97" fill="#fd921c"/>
<circle cx="414.20" cy="98.60" r="1.94" fill="#fd921c"/>
<circle cx="417.68" cy="98.60" r="1.63" fill="#fd921c"/>
<circle cx="420.40" cy="98.60" r="1.97" fill="#fd921c"/>
<circle cx="423.68" cy="98.60" r="1.57" fill="#fd921c"/>
<path d="M427.00,103.90 L470.00,103.90" fill="none" stroke="#fd921c" stroke-width="1.6"/>
<circle cx="428.00" cy="103.90" r="1.45" fill="#fd921c"/>
<circle cx="432.20" cy="103.90" r="1.45" fill="#fd921c"/>
<circle cx="436.40" cy="103.90" r="1.45" fill="#fd921c"/>
<circle cx="440.60" cy="103.90" r="1.45" fill="#fd921c"/>
<circle cx="444.80" cy="103.90" r="1.45" fill="#fd921c"/>
<circle cx="449.00" cy="103.90" r="1.45" fill="#fd921c"/>
<circle cx="453.20" cy="103.90" r="1.45" fill="#fd921c"/>
<circle cx="457.40" cy="103.90" r="1.45" fill="#fd921c"/>
<circle cx="461.60" cy="103.90" r="1.45" fill="#fd921c"/>
<circle cx="465.80" cy="103.90" r="1.45" fill="#fd921c"/>
<circle cx="470.00" cy="103.90" r="1.45" fill="#fd921c"/>
<path d="M298.50,10.70 L300.95,10.70 L300.95,11.20 L303.40,11.20 L303.40,11.70 L304.70,11.70 L304.70,15.10 L306.75,15.10 L306.75,16.80 L308.80,16.80 L308.80,18.50 L310.15,18.50 L310.15,20.50 L311.50,20.50 L311.50,22.50 L314.20,22.50 L314.20,25.20 L315.50,25.20 L315.50,27.20 L316.80,27.20 L316.80,29.20 L318.85,29.20 L318.85,31.25 L320.90,31.25 L320.90,33.30 L322.90,33.30 L322.90,35.30 L324.90,35.30 L324.90,37.30 L326.70,37.30 L326.70,38.10 L328.75,38.10 L328.75,39.75 L330.80,39.75 L330.80,41.40 L333.50,41.40 L333.50,43.50 L340.20,43.50 L341.53,43.50 L341.53,45.73 L342.87,45.73 L342.87,47.97 L344.20,47.97 L344.20,50.20 L346.25,50.20 L346.25,51.55 L348.30,51.55 L348.30,52.90 L350.95,52.90 L350.95,55.60 L353.60,55.60 L353.60,58.30 L356.30,58.30 L356.30,60.30 L359.00,60.30 L359.00,62.30 L361.27,62.30 L361.27,63.63 L363.53,63.63 L363.53,64.97 L365.80,64.97 L365.80,66.30 L368.17,66.30 L368.17,68.37 L370.53,68.37 L370.53,70.43 L372.90,70.43 L372.90,72.50 L374.90,72.50 L374.90,74.85 L376.90,74.85 L376.90,77.20 L380.00,77.70 L383.00,77.70 L383.00,81.00 L393.50,81.00 L394.85,81.00 L394.85,83.05 L396.20,83.05 L396.20,85.10 L398.20,85.10 L398.20,86.80 L400.20,86.80 L400.20,88.50 L425.80,88.50 L425.80,95.20 L471.00,95.20" fill="none" stroke="#da3448" stroke-width="1.1" stroke-linejoin="miter"/>
<path d="M344.00,47.97 L344.20,47.97 L344.20,47.97 L344.20,50.20 L344.20,50.20 L346.25,50.20 L346.25,50.20 L346.25,51.55 L346.25,51.55 L348.30,51.55 L348.30,51.55 L348.30,52.90 L348.30,52.90 L350.95,52.90 L350.95,52.90 L350.95,55.60 L350.95,55.60 L353.60,55.60 L353.60,55.60 L353.60,58.30 L353.60,58.30 L356.30,58.30 L356.30,58.30 L356.30,60.30 L356.30,60.30 L359.00,60.30 L359.00,60.30 L359.00,62.30 L359.00,62.30 L361.27,62.30 L361.27,62.30 L361.27,63.63 L361.27,63.63 L363.53,63.63 L363.53,63.63 L363.53,64.97 L363.53,64.97 L365.80,64.97 L365.80,64.97 L365.80,66.30 L365.80,66.30 L368.17,66.30 L368.17,66.30 L368.17,68.37 L368.17,68.37 L370.53,68.37 L370.53,68.37 L370.53,70.43 L370.53,70.43 L372.90,70.43 L372.90,70.43 L372.90,72.50 L372.90,72.50 L374.90,72.50 L374.90,72.50 L374.90,74.85 L374.90,74.85 L376.90,74.85 L376.90,74.85 L376.90,77.20 L376.90,77.20 L380.00,77.70 L380.00,77.70 L383.00,77.70 L383.00,77.70 L383.00,81.00 L383.00,81.00 L393.50,81.00 L393.50,81.00 L394.85,81.00 L394.85,81.00 L394.85,83.05 L394.85,83.05 L396.20,83.05 L396.20,83.05 L396.20,85.10 L396.20,85.10 L398.20,85.10 L398.20,85.10 L398.20,86.80 L398.20,86.80 L400.00,86.80" fill="none" stroke="#ea1234" stroke-width="2.3" stroke-linejoin="round"/>
<circle cx="344.66" cy="50.20" r="1.54" fill="#ea1234"/>
<circle cx="346.74" cy="51.55" r="1.54" fill="#ea1234"/>
<circle cx="349.68" cy="52.90" r="1.89" fill="#ea1234"/>
<circle cx="353.08" cy="55.60" r="1.58" fill="#ea1234"/>
<circle cx="356.11" cy="58.30" r="1.83" fill="#ea1234"/>
<circle cx="358.00" cy="60.30" r="1.94" fill="#ea1234"/>
<circle cx="361.53" cy="63.63" r="1.61" fill="#ea1234"/>
<circle cx="365.04" cy="64.97" r="1.70" fill="#ea1234"/>
<circle cx="367.61" cy="66.30" r="1.99" fill="#ea1234"/>
<circle cx="370.88" cy="70.43" r="1.58" fill="#ea1234"/>
<circle cx="373.34" cy="72.50" r="1.76" fill="#ea1234"/>
<circle cx="375.62" cy="74.85" r="1.60" fill="#ea1234"/>
<circle cx="377.85" cy="77.35" r="1.86" fill="#ea1234"/>
<circle cx="379.49" cy="77.62" r="1.78" fill="#ea1234"/>
<circle cx="381.97" cy="77.70" r="1.51" fill="#ea1234"/>
<circle cx="384.24" cy="81.00" r="1.81" fill="#ea1234"/>
<circle cx="386.86" cy="81.00" r="1.53" fill="#ea1234"/>
<circle cx="390.43" cy="81.00" r="1.89" fill="#ea1234"/>
<circle cx="393.97" cy="81.00" r="1.55" fill="#ea1234"/>
<circle cx="396.11" cy="83.05" r="1.52" fill="#ea1234"/>
<circle cx="399.26" cy="86.80" r="1.64" fill="#ea1234"/>
<path d="M401.00,88.50 L425.00,88.50" fill="none" stroke="#ea1234" stroke-width="1.6"/>
<circle cx="402.00" cy="88.50" r="1.45" fill="#ea1234"/>
<circle cx="406.00" cy="88.50" r="1.45" fill="#ea1234"/>
<circle cx="410.00" cy="88.50" r="1.45" fill="#ea1234"/>
<circle cx="414.00" cy="88.50" r="1.45" fill="#ea1234"/>
<circle cx="418.00" cy="88.50" r="1.45" fill="#ea1234"/>
<circle cx="422.00" cy="88.50" r="1.45" fill="#ea1234"/>
<path d="M427.00,95.20 L471.00,95.20" fill="none" stroke="#ea1234" stroke-width="1.6"/>
<circle cx="428.00" cy="95.20" r="1.45" fill="#ea1234"/>
<circle cx="432.00" cy="95.20" r="1.45" fill="#ea1234"/>
<circle cx="436.00" cy="95.20" r="1.45" fill="#ea1234"/>
<circle cx="440.00" cy="95.20" r="1.45" fill="#ea1234"/>
<circle cx="444.00" cy="95.20" r="1.45" fill="#ea1234"/>
<circle cx="448.00" cy="95.20" r="1.45" fill="#ea1234"/>
<circle cx="452.00" cy="95.20" r="1.45" fill="#ea1234"/>
<circle cx="456.00" cy="95.20" r="1.45" fill="#ea1234"/>
<circle cx="460.00" cy="95.20" r="1.45" fill="#ea1234"/>
<circle cx="464.00" cy="95.20" r="1.45" fill="#ea1234"/>
<circle cx="468.00" cy="95.20" r="1.45" fill="#ea1234"/>
<path d="M298.50,10.70 L310.00,10.70 L312.75,10.70 L312.75,11.90 L315.50,11.90 L315.50,13.10 L318.20,13.10 L318.20,14.45 L320.90,14.45 L320.90,15.80 L322.90,15.80 L322.90,16.45 L324.90,16.45 L324.90,17.10 L327.13,17.10 L327.13,17.77 L329.37,17.77 L329.37,18.43 L331.60,18.43 L331.60,19.10 L333.87,19.10 L333.87,19.93 L336.13,19.93 L336.13,20.77 L338.40,20.77 L338.40,21.60 L340.40,21.60 L340.40,22.50 L342.40,22.50 L342.40,23.40 L344.45,23.40 L344.45,23.90 L346.50,23.90 L346.50,24.40 L350.00,24.80 L352.16,24.80 L352.16,25.04 L354.32,25.04 L354.32,25.28 L356.48,25.28 L356.48,25.52 L358.64,25.52 L358.64,25.76 L360.80,25.76 L360.80,26.00 L362.10,26.00 L362.10,27.80 L364.45,27.80 L364.45,28.12 L366.80,28.12 L366.80,28.45 L369.15,28.45 L369.15,28.78 L371.50,28.78 L371.50,29.10 L374.20,29.10 L374.20,31.45 L376.90,31.45 L376.90,33.80 L378.95,33.80 L378.95,35.85 L381.00,35.85 L381.00,37.90 L383.00,37.90 L383.00,39.25 L385.00,39.25 L385.00,40.60 L387.70,40.60 L387.70,41.95 L390.40,41.95 L390.40,43.30 L393.10,43.30 L393.10,44.40 L395.80,44.40 L395.80,45.50 L398.50,45.50 L398.50,46.60 L401.17,46.60 L401.17,47.97 L403.83,47.97 L403.83,49.33 L406.50,49.33 L406.50,50.70 L409.00,50.70 L409.00,52.80 L411.27,52.80 L411.27,53.70 L413.53,53.70 L413.53,54.60 L415.80,54.60 L415.80,55.50 L418.50,55.50 L418.50,56.85 L421.20,56.85 L421.20,58.20 L426.50,58.80 L428.55,58.80 L428.55,61.20 L430.60,61.20 L430.60,63.60 L432.60,63.60 L432.60,65.45 L434.60,65.45 L434.60,67.30 L471.60,67.30" fill="none" stroke="#34aa3c" stroke-width="1.1" stroke-linejoin="miter"/>
<path d="M355.00,25.28 L356.48,25.28 L356.48,25.28 L356.48,25.52 L356.48,25.52 L358.64,25.52 L358.64,25.52 L358.64,25.76 L358.64,25.76 L360.80,25.76 L360.80,25.76 L360.80,26.00 L360.80,26.00 L362.10,26.00 L362.10,26.00 L362.10,27.80 L362.10,27.80 L364.45,27.80 L364.45,27.80 L364.45,28.12 L364.45,28.12 L366.80,28.12 L366.80,28.12 L366.80,28.45 L366.80,28.45 L369.15,28.45 L369.15,28.45 L369.15,28.78 L369.15,28.78 L371.50,28.78 L371.50,28.78 L371.50,29.10 L371.50,29.10 L374.20,29.10 L374.20,29.10 L374.20,31.45 L374.20,31.45 L376.90,31.45 L376.90,31.45 L376.90,33.80 L376.90,33.80 L378.95,33.80 L378.95,33.80 L378.95,35.85 L378.95,35.85 L381.00,35.85 L381.00,35.85 L381.00,37.90 L381.00,37.90 L383.00,37.90 L383.00,37.90 L383.00,39.25 L383.00,39.25 L385.00,39.25 L385.00,39.25 L385.00,40.60 L385.00,40.60 L387.70,40.60 L387.70,40.60 L387.70,41.95 L387.70,41.95 L390.40,41.95 L390.40,41.95 L390.40,43.30 L390.40,43.30 L393.10,43.30 L393.10,43.30 L393.10,44.40 L393.10,44.40 L395.80,44.40 L395.80,44.40 L395.80,45.50 L395.80,45.50 L398.50,45.50 L398.50,45.50 L398.50,46.60 L398.50,46.60 L401.17,46.60 L401.17,46.60 L401.17,47.97 L401.17,47.97 L403.83,47.97 L403.83,47.97 L403.83,49.33 L403.83,49.33 L406.50,49.33 L406.50,49.33 L406.50,50.70 L406.50,50.70 L409.00,50.70 L409.00,50.70 L409.00,52.80 L409.00,52.80 L411.27,52.80 L411.27,52.80 L411.27,53.70 L411.27,53.70 L413.53,53.70 L413.53,53.70 L413.53,54.60 L413.53,54.60 L415.80,54.60 L415.80,54.60 L415.80,55.50 L415.80,55.50 L418.50,55.50 L418.50,55.50 L418.50,56.85 L418.50,56.85 L421.20,56.85 L421.20,56.85 L421.20,58.20 L421.20,58.20 L426.50,58.80 L426.50,58.80 L428.55,58.80 L428.55,58.80 L428.55,61.20 L428.55,61.20 L430.60,61.20 L430.60,61.20 L430.60,63.60 L430.60,63.60 L432.60,63.60 L432.60,63.60 L432.60,65.45 L432.60,65.45 L434.60,65.45 L434.60,65.45 L434.60,67.30 L434.60,67.30 L435.00,67.30" fill="none" stroke="#1fb81f" stroke-width="2.3" stroke-linejoin="round"/>
<circle cx="355.63" cy="25.28" r="1.96" fill="#1fb81f"/>
<circle cx="358.87" cy="25.76" r="1.63" fill="#1fb81f"/>
<circle cx="360.77" cy="25.76" r="1.96" fill="#1fb81f"/>
<circle cx="363.51" cy="27.80" r="1.85" fill="#1fb81f"/>
<circle cx="365.29" cy="28.12" r="1.53" fill="#1fb81f"/>
<circle cx="368.27" cy="28.45" r="1.71" fill="#1fb81f"/>
<circle cx="370.01" cy="28.78" r="1.97" fill="#1fb81f"/>
<circle cx="372.88" cy="29.10" r="1.90" fill="#1fb81f"/>
<circle cx="374.65" cy="31.45" r="1.93" fill="#1fb81f"/>
<circle cx="376.38" cy="31.45" r="1.93" fill="#1fb81f"/>
<circle cx="378.89" cy="33.80" r="1.67" fill="#1fb81f"/>
<circle cx="381.59" cy="37.90" r="1.96" fill="#1fb81f"/>
<circle cx="383.73" cy="39.25" r="1.56" fill="#1fb81f"/>
<circle cx="386.38" cy="40.60" r="1.62" fill="#1fb81f"/>
<circle cx="388.20" cy="41.95" r="1.58" fill="#1fb81f"/>
<circle cx="389.90" cy="41.95" r="1.60" fill="#1fb81f"/>
<circle cx="392.13" cy="43.30" r="1.65" fill="#1fb81f"/>
<circle cx="395.25" cy="44.40" r="1.64" fill="#1fb81f"/>
<circle cx="397.85" cy="45.50" r="1.59" fill="#1fb81f"/>
<circle cx="400.14" cy="46.60" r="1.51" fill="#1fb81f"/>
<circle cx="402.24" cy="47.97" r="1.51" fill="#1fb81f"/>
<circle cx="405.31" cy="49.33" r="1.78" fill="#1fb81f"/>
<circle cx="407.29" cy="50.70" r="1.74" fill="#1fb81f"/>
<circle cx="410.76" cy="52.80" r="1.55" fill="#1fb81f"/>
<circle cx="413.99" cy="54.60" r="1.72" fill="#1fb81f"/>
<circle cx="416.58" cy="55.50" r="1.92" fill="#1fb81f"/>
<circle cx="418.97" cy="56.85" r="1.75" fill="#1fb81f"/>
<circle cx="421.95" cy="58.28" r="1.99" fill="#1fb81f"/>
<circle cx="424.23" cy="58.54" r="1.92" fill="#1fb81f"/>
<circle cx="427.24" cy="58.80" r="1.82" fill="#1fb81f"/>
<circle cx="429.65" cy="61.20" r="1.67" fill="#1fb81f"/>
<circle cx="431.36" cy="63.60" r="1.56" fill="#1fb81f"/>
<circle cx="433.10" cy="65.45" r="1.87" fill="#1fb81f"/>
<path d="M436.00,67.30 L471.00,67.30" fill="none" stroke="#1fb81f" stroke-width="1.6"/>
<circle cx="437.00" cy="67.30" r="1.45" fill="#1fb81f"/>
<circle cx="441.00" cy="67.30" r="1.45" fill="#1fb81f"/>
<circle cx="445.00" cy="67.30" r="1.45" fill="#1fb81f"/>
<circle cx="449.00" cy="67.30" r="1.45" fill="#1fb81f"/>
<circle cx="453.00" cy="67.30" r="1.45" fill="#1fb81f"/>
<circle cx="457.00" cy="67.30" r="1.45" fill="#1fb81f"/>
<circle cx="461.00" cy="67.30" r="1.45" fill="#1fb81f"/>
<circle cx="465.00" cy="67.30" r="1.45" fill="#1fb81f"/>
<circle cx="469.00" cy="67.30" r="1.45" fill="#1fb81f"/>
<path d="M298.50,10.70 L311.50,10.70 L313.73,10.70 L313.73,11.27 L315.97,11.27 L315.97,11.83 L318.20,11.83 L318.20,12.40 L320.20,12.40 L320.20,13.40 L322.20,13.40 L322.20,14.40 L324.47,14.40 L324.47,14.63 L326.73,14.63 L326.73,14.87 L329.00,14.87 L329.00,15.10 L331.65,15.10 L331.65,16.45 L334.30,16.45 L334.30,17.80 L337.00,17.80 L337.00,21.20 L339.05,21.20 L339.05,22.20 L341.10,22.20 L341.10,23.20 L343.80,23.20 L343.80,23.50 L346.50,23.50 L346.50,23.80 L348.88,23.80 L348.88,24.02 L351.27,24.02 L351.27,24.23 L353.65,24.23 L353.65,24.45 L356.03,24.45 L356.03,24.67 L358.42,24.67 L358.42,24.88 L360.80,24.88 L360.80,25.10 L363.48,25.10 L363.48,25.43 L366.15,25.43 L366.15,25.75 L368.82,25.75 L368.82,26.07 L371.50,26.07 L371.50,26.40 L373.55,26.40 L373.55,28.45 L375.60,28.45 L375.60,30.50 L377.95,30.50 L377.95,31.00 L380.30,31.00 L380.30,31.50 L382.65,31.50 L382.65,32.00 L385.00,32.00 L385.00,32.50 L387.00,32.50 L387.00,33.50 L389.00,33.50 L389.00,34.50 L401.10,34.50 L402.50,34.50 L402.50,37.20 L417.50,37.20 L420.20,37.20 L420.20,39.80 L421.20,39.80 L421.20,41.80 L422.20,41.80 L422.20,43.80 L424.20,43.80 L424.20,46.50 L425.60,46.50 L425.60,49.30 L448.00,49.30 L448.00,56.50 L471.00,56.50" fill="none" stroke="#3848c8" stroke-width="1.1" stroke-linejoin="miter"/>
<path d="M346.00,23.50 L346.50,23.50 L346.50,23.50 L346.50,23.80 L346.50,23.80 L348.88,23.80 L348.88,23.80 L348.88,24.02 L348.88,24.02 L351.27,24.02 L351.27,24.02 L351.27,24.23 L351.27,24.23 L353.65,24.23 L353.65,24.23 L353.65,24.45 L353.65,24.45 L356.03,24.45 L356.03,24.45 L356.03,24.67 L356.03,24.67 L358.42,24.67 L358.42,24.67 L358.42,24.88 L358.42,24.88 L360.80,24.88 L360.80,24.88 L360.80,25.10 L360.80,25.10 L363.48,25.10 L363.48,25.10 L363.48,25.43 L363.48,25.43 L366.15,25.43 L366.15,25.43 L366.15,25.75 L366.15,25.75 L368.82,25.75 L368.82,25.75 L368.82,26.07 L368.82,26.07 L371.50,26.07 L371.50,26.07 L371.50,26.40 L371.50,26.40 L372.00,26.40" fill="none" stroke="#1e32e8" stroke-width="2.3" stroke-linejoin="round"/>
<circle cx="346.24" cy="23.50" r="1.54" fill="#1e32e8"/>
<circle cx="349.53" cy="24.02" r="1.94" fill="#1e32e8"/>
<circle cx="352.47" cy="24.23" r="1.64" fill="#1e32e8"/>
<circle cx="354.55" cy="24.45" r="1.65" fill="#1e32e8"/>
<circle cx="357.07" cy="24.67" r="1.58" fill="#1e32e8"/>
<circle cx="359.56" cy="24.88" r="1.63" fill="#1e32e8"/>
<circle cx="363.09" cy="25.10" r="1.99" fill="#1e32e8"/>
<circle cx="365.78" cy="25.43" r="1.62" fill="#1e32e8"/>
<circle cx="369.31" cy="26.07" r="1.65" fill="#1e32e8"/>
<circle cx="371.63" cy="26.40" r="1.50" fill="#1e32e8"/>
<path d="M375.00,28.45 L375.60,28.45 L375.60,28.45 L375.60,30.50 L375.60,30.50 L377.95,30.50 L377.95,30.50 L377.95,31.00 L377.95,31.00 L380.30,31.00 L380.30,31.00 L380.30,31.50 L380.30,31.50 L382.65,31.50 L382.65,31.50 L382.65,32.00 L382.65,32.00 L385.00,32.00 L385.00,32.00 L385.00,32.50 L385.00,32.50 L387.00,32.50 L387.00,32.50 L387.00,33.50 L387.00,33.50 L389.00,33.50 L389.00,33.50 L389.00,34.50 L389.00,34.50 L401.00,34.50" fill="none" stroke="#1e32e8" stroke-width="2.3" stroke-linejoin="round"/>
<circle cx="375.71" cy="30.50" r="1.75" fill="#1e32e8"/>
<circle cx="377.71" cy="30.50" r="1.75" fill="#1e32e8"/>
<circle cx="379.32" cy="31.00" r="1.63" fill="#1e32e8"/>
<circle cx="381.10" cy="31.50" r="1.70" fill="#1e32e8"/>
<circle cx="382.79" cy="32.00" r="1.51" fill="#1e32e8"/>
<circle cx="385.00" cy="32.00" r="1.62" fill="#1e32e8"/>
<circle cx="387.77" cy="33.50" r="1.76" fill="#1e32e8"/>
<circle cx="390.87" cy="34.50" r="1.83" fill="#1e32e8"/>
<circle cx="393.90" cy="34.50" r="1.94" fill="#1e32e8"/>
<circle cx="396.28" cy="34.50" r="1.66" fill="#1e32e8"/>
<circle cx="399.85" cy="34.50" r="1.57" fill="#1e32e8"/>
<path d="M426.00,49.30 L448.00,49.30 L448.00,49.30 L448.00,56.50 L448.00,56.50 L448.00,56.50" fill="none" stroke="#1e32e8" stroke-width="2.3" stroke-linejoin="round"/>
<circle cx="426.96" cy="49.30" r="1.52" fill="#1e32e8"/>
<circle cx="430.24" cy="49.30" r="1.95" fill="#1e32e8"/>
<circle cx="433.09" cy="49.30" r="1.87" fill="#1e32e8"/>
<circle cx="436.31" cy="49.30" r="1.57" fill="#1e32e8"/>
<circle cx="438.96" cy="49.30" r="1.75" fill="#1e32e8"/>
<circle cx="442.23" cy="49.30" r="1.90" fill="#1e32e8"/>
<circle cx="445.48" cy="49.30" r="1.79" fill="#1e32e8"/>
<path d="M449.00,56.50 L461.00,56.50" fill="none" stroke="#1e32e8" stroke-width="2.3" stroke-linejoin="round"/>
<circle cx="450.02" cy="56.50" r="1.85" fill="#1e32e8"/>
<circle cx="452.08" cy="56.50" r="1.52" fill="#1e32e8"/>
<circle cx="453.95" cy="56.50" r="1.68" fill="#1e32e8"/>
<circle cx="455.76" cy="56.50" r="1.92" fill="#1e32e8"/>
<circle cx="458.48" cy="56.50" r="1.81" fill="#1e32e8"/>
<path d="M403.00,37.20 L417.00,37.20" fill="none" stroke="#1e32e8" stroke-width="1.6"/>
<circle cx="404.00" cy="37.20" r="1.45" fill="#1e32e8"/>
<circle cx="408.00" cy="37.20" r="1.45" fill="#1e32e8"/>
<circle cx="412.00" cy="37.20" r="1.45" fill="#1e32e8"/>
<circle cx="416.00" cy="37.20" r="1.45" fill="#1e32e8"/>
<path d="M461.00,56.50 L471.00,56.50" fill="none" stroke="#1e32e8" stroke-width="1.6"/>
<circle cx="462.00" cy="56.50" r="1.45" fill="#1e32e8"/>
<circle cx="466.00" cy="56.50" r="1.45" fill="#1e32e8"/>
<circle cx="470.00" cy="56.50" r="1.45" fill="#1e32e8"/>
<path d="M476.3,56 H480.5 V66.3 H476.3" fill="none" stroke="#333" stroke-width="1.3"/>
<path d="M475,94 H478.6 V103.6 H475" fill="none" stroke="#333" stroke-width="1.3"/>
<text x="488.1" y="63.7" font-size="8" fill="#111" stroke="#111" stroke-width="0.15" textLength="28.4" lengthAdjust="spacing"><tspan font-style="italic">P</tspan>= .226</text>
<text x="488.1" y="102.6" font-size="8" fill="#111" stroke="#111" stroke-width="0.15" textLength="28.4" lengthAdjust="spacing"><tspan font-style="italic">P</tspan>= .638</text>
<rect x="27.9" y="220.5" width="217.1" height="53.19999999999999" fill="#e2efeb"/>
<path d="M27.9,219.8 V274.7" stroke="#5c6563" stroke-width="2.0"/>
<path d="M245.0,219.8 V274.7" stroke="#5c6563" stroke-width="1.7"/>
<path d="M26.9,220.5 H245.85" stroke="#5c6563" stroke-width="1.4"/>
<path d="M26.9,273.7 H245.85" stroke="#5c6563" stroke-width="2.0"/>
<text x="108" y="231.2" font-size="8.1" fill="#111" font-weight="bold" font-style="normal" text-anchor="start" textLength="31.2" lengthAdjust="spacingAndGlyphs">Events/N</text>
<text x="159.3" y="231.2" font-size="8.1" fill="#111" font-weight="bold" font-style="normal" text-anchor="start" textLength="72.7" lengthAdjust="spacingAndGlyphs">5-year EFS (95% CI)</text>
<text x="34.1" y="240.3" font-size="7.95" fill="#3a4ac6" font-weight="normal" font-style="normal" text-anchor="start">No Amp1q21/Thal+</text>
<text x="139.9" y="240.3" font-size="8.0" fill="#3a4ac6" font-weight="normal" font-style="normal" text-anchor="end">31/124</text>
<text x="194.6" y="240.3" font-size="8.0" fill="#3a4ac6" font-weight="normal" font-style="normal" text-anchor="middle">73% (64, 82)</text>
<text x="34.1" y="249.6" font-size="7.95" fill="#58c640" font-weight="normal" font-style="normal" text-anchor="start">No Amp1q21/Thal-</text>
<text x="139.9" y="249.6" font-size="8.0" fill="#58c640" font-weight="normal" font-style="normal" text-anchor="end">62/150</text>
<text x="194.6" y="249.6" font-size="8.0" fill="#58c640" font-weight="normal" font-style="normal" text-anchor="middle">54% (44, 63)</text>
<text x="34.1" y="259.2" font-size="7.95" fill="#f0a468" font-weight="normal" font-style="normal" text-anchor="start">Amp1q21/Thal+</text>
<text x="139.9" y="259.2" font-size="8.0" fill="#f0a468" font-weight="normal" font-style="normal" text-anchor="end">55/102</text>
<text x="194.6" y="259.2" font-size="8.0" fill="#f0a468" font-weight="normal" font-style="normal" text-anchor="middle">42% (31, 53)</text>
<text x="34.1" y="268.8" font-size="7.95" fill="#cc2240" font-weight="normal" font-style="normal" text-anchor="start">Amp1q21/Thal-</text>
<text x="139.9" y="268.8" font-size="8.0" fill="#cc2240" font-weight="normal" font-style="normal" text-anchor="end">60/103</text>
<text x="194.6" y="268.8" font-size="8.0" fill="#cc2240" font-weight="normal" font-style="normal" text-anchor="middle">37% (26, 48)</text>
<rect x="290.5" y="219.8" width="219.60000000000002" height="53.5" fill="#e2efeb"/>
<path d="M290.5,218.95000000000002 V273.95" stroke="#5c6563" stroke-width="1.6"/>
<path d="M510.1,218.95000000000002 V273.95" stroke="#5c6563" stroke-width="1.8"/>
<path d="M289.7,219.8 H511.0" stroke="#5c6563" stroke-width="1.7"/>
<path d="M289.7,273.3 H511.0" stroke="#5c6563" stroke-width="1.3"/>
<text x="377" y="231.2" font-size="8.1" fill="#111" font-weight="bold" font-style="normal" text-anchor="start" textLength="32.3" lengthAdjust="spacingAndGlyphs">Deaths/N</text>
<text x="429.5" y="231.2" font-size="8.1" fill="#111" font-weight="bold" font-style="normal" text-anchor="start" textLength="68.4" lengthAdjust="spacingAndGlyphs">5-year OS (95% CI)</text>
<text x="296.5" y="240.3" font-size="7.95" fill="#3a4ac6" font-weight="normal" font-style="normal" text-anchor="start">No Amp1q21/Thal+</text>
<text x="393.7" y="240.3" font-size="8.0" fill="#3a4ac6" font-weight="normal" font-style="normal" text-anchor="middle">22/124</text>
<text x="464.3" y="240.3" font-size="8.0" fill="#3a4ac6" font-weight="normal" font-style="normal" text-anchor="middle">84% (77, 91)</text>
<text x="296.5" y="249.6" font-size="7.95" fill="#58c640" font-weight="normal" font-style="normal" text-anchor="start">No Amp1q21/Thal-</text>
<text x="393.7" y="249.6" font-size="8.0" fill="#58c640" font-weight="normal" font-style="normal" text-anchor="middle">36/150</text>
<text x="464.3" y="249.6" font-size="8.0" fill="#58c640" font-weight="normal" font-style="normal" text-anchor="middle">73% (65, 82)</text>
<text x="296.5" y="259.2" font-size="7.95" fill="#f0a468" font-weight="normal" font-style="normal" text-anchor="start">Amp1q21/Thal+</text>
<text x="393.7" y="259.2" font-size="8.0" fill="#f0a468" font-weight="normal" font-style="normal" text-anchor="middle">45/102</text>
<text x="464.3" y="259.2" font-size="8.0" fill="#f0a468" font-weight="normal" font-style="normal" text-anchor="middle">49% (38, 61)</text>
<text x="296.5" y="268.8" font-size="7.95" fill="#cc2240" font-weight="normal" font-style="normal" text-anchor="start">Amp1q21/Thal-</text>
<text x="393.7" y="268.8" font-size="8.0" fill="#cc2240" font-weight="normal" font-style="normal" text-anchor="middle">41/103</text>
<text x="464.3" y="268.8" font-size="8.0" fill="#cc2240" font-weight="normal" font-style="normal" text-anchor="middle">55% (43, 66)</text>
</svg></body></html>
